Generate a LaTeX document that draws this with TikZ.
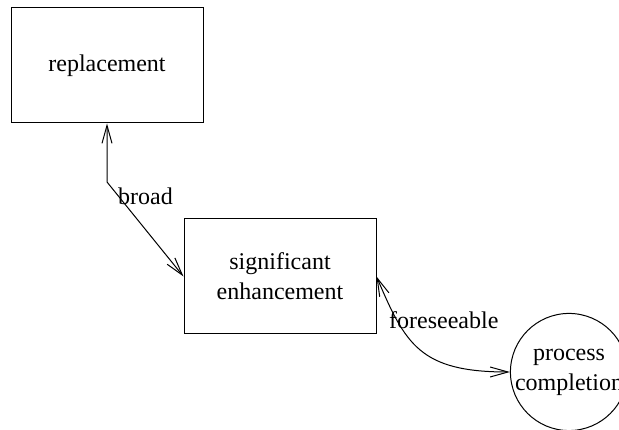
\documentclass[tikz,border=0pt]{standalone}
\usepackage{fontspec}
\setmainfont{Liberation Serif}
\usetikzlibrary{arrows.meta}
\begin{document}
\begin{tikzpicture}[x=1pt,y=-1pt,
  every node/.style={font=\fontsize{24}{30}\selectfont},
  box/.style={draw,line width=1pt,rectangle,minimum width=192pt,minimum height=115pt,inner sep=0pt,align=center},
  circ/.style={draw,line width=1pt,circle,minimum size=116pt,inner sep=0pt,align=center},
  link/.style={line width=1pt,{Straight Barb[length=18pt,width=10pt]}-{Straight Barb[length=18pt,width=10pt]}},
  lbl/.style={inner sep=0pt,anchor=base west}]
\useasboundingbox (0,0) rectangle (619,430);
\clip (0,0) rectangle (619,430);
\node[box] (rep) at (107,65.5) {replacement};
\node[box] (enh) at (280,276.5) {significant\\enhancement};
\node[circ] (proc) at (569,372) {process\\completion};
\coordinate (bend) at (107,182);
\draw[link] (rep.south) -- (bend) -- (enh.west);
\draw[link] (enh.east) .. controls +(29,68) and (420,372) .. (proc.west);
\node[lbl] (broad) at (118,205) {broad};
\node[lbl] (fore) at (389,329) {foreseeable};
\end{tikzpicture}
\end{document}
